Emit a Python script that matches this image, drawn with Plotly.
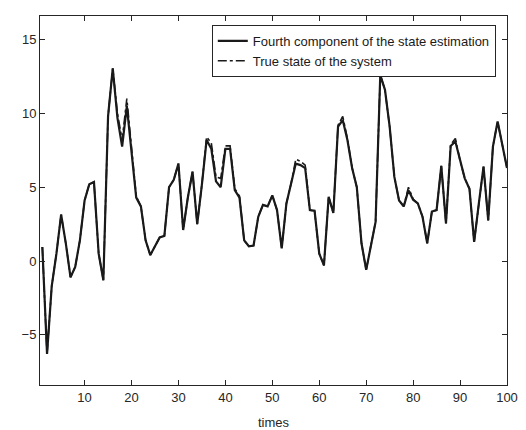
import plotly.graph_objects as go

times = list(range(1, 101))

estimate = [
    0.95, -6.3, -1.7, 0.5, 3.15, 1.2, -1.1, -0.4, 1.4, 4.1,
    5.2, 5.35, 0.5, -1.3, 9.8, 13.05, 9.7, 7.75, 10.5, 7.5,
    4.3, 3.7, 1.4, 0.4, 0.95, 1.6, 1.7, 5.0, 5.5, 6.6,
    2.1, 4.3, 6.05, 2.5, 5.2, 8.2, 7.6, 5.4, 5.0, 7.6,
    7.6, 4.8, 4.3, 1.4, 1.0, 1.05, 3.0, 3.8, 3.7, 4.45,
    3.45, 0.85, 3.9, 5.25, 6.6, 6.5, 6.3, 3.45, 3.4, 0.5,
    -0.3, 4.35, 3.25, 9.1, 9.55, 8.2, 6.3, 5.0, 1.2, -0.6,
    1.05, 2.65, 12.6, 11.6, 9.1, 5.7, 4.1, 3.7, 4.8, 4.15,
    3.9, 3.0, 1.2, 3.35, 3.45, 6.45, 2.55, 7.8, 8.1, 6.8,
    5.6, 4.9, 1.3, 3.9, 6.4, 2.75, 7.75, 9.45, 7.75, 6.3,
]

true_state = [
    0.95, -6.3, -1.7, 0.5, 3.15, 1.2, -1.1, -0.4, 1.4, 4.1,
    5.2, 5.35, 0.5, -1.3, 9.8, 13.05, 10.0, 8.2, 11.0, 7.8,
    4.4, 3.7, 1.4, 0.4, 0.95, 1.6, 1.7, 5.0, 5.5, 6.6,
    2.1, 4.3, 6.05, 2.5, 5.2, 8.4, 8.0, 5.7, 5.6, 7.8,
    7.8, 4.9, 4.4, 1.4, 1.0, 1.05, 3.0, 3.8, 3.7, 4.45,
    3.45, 0.85, 3.9, 5.25, 6.9, 6.75, 6.5, 3.45, 3.4, 0.5,
    -0.3, 4.35, 3.25, 9.2, 9.8, 8.3, 6.3, 5.0, 1.2, -0.6,
    1.05, 2.65, 12.6, 11.6, 9.1, 5.7, 4.1, 3.7, 5.0, 4.2,
    3.9, 3.0, 1.2, 3.35, 3.45, 6.45, 2.55, 7.9, 8.3, 6.8,
    5.6, 4.9, 1.3, 3.9, 6.4, 2.75, 7.75, 9.45, 7.75, 6.3,
]

x_ticks = [10, 20, 30, 40, 50, 60, 70, 80, 90, 100]
y_ticks = [-5, 0, 5, 10, 15]

fig = go.Figure()
fig.add_trace(go.Scatter(
    x=times, y=estimate, mode="lines",
    name="Fourth component of the state estimation",
    line=dict(color="#1a1a1a", width=2.2),
))
fig.add_trace(go.Scatter(
    x=times, y=true_state, mode="lines",
    name="True state of the system",
    line=dict(color="#1a1a1a", width=1.6, dash="dashdot"),
))

axis_common = dict(
    showline=True, linecolor="#262626", linewidth=1, mirror="ticks",
    ticks="inside", ticklen=5, tickcolor="#262626", showgrid=False,
    zeroline=False, automargin=False,
    tickfont=dict(family="Liberation Sans, Arial", size=13, color="#262626"),
)

fig.update_layout(
    width=526, height=430,
    margin=dict(l=40, r=19, t=16, b=45),
    paper_bgcolor="white", plot_bgcolor="white",
    showlegend=True,
    legend=dict(
        x=0.976, y=0.976, xanchor="right", yanchor="top",
        bgcolor="white", bordercolor="#262626", borderwidth=1,
        font=dict(family="Liberation Sans, Arial", size=13, color="#1a1a1a"),
        tracegroupgap=0, itemwidth=30,
    ),
    xaxis=dict(range=[0.5, 100], tickvals=x_ticks,
               title=dict(text="times", font=dict(family="Liberation Sans, Arial", size=13, color="#262626")),
               **axis_common),
    yaxis=dict(range=[-8.4, 16.6], tickvals=y_ticks, **axis_common),
)

fig.write_html("out.html")
